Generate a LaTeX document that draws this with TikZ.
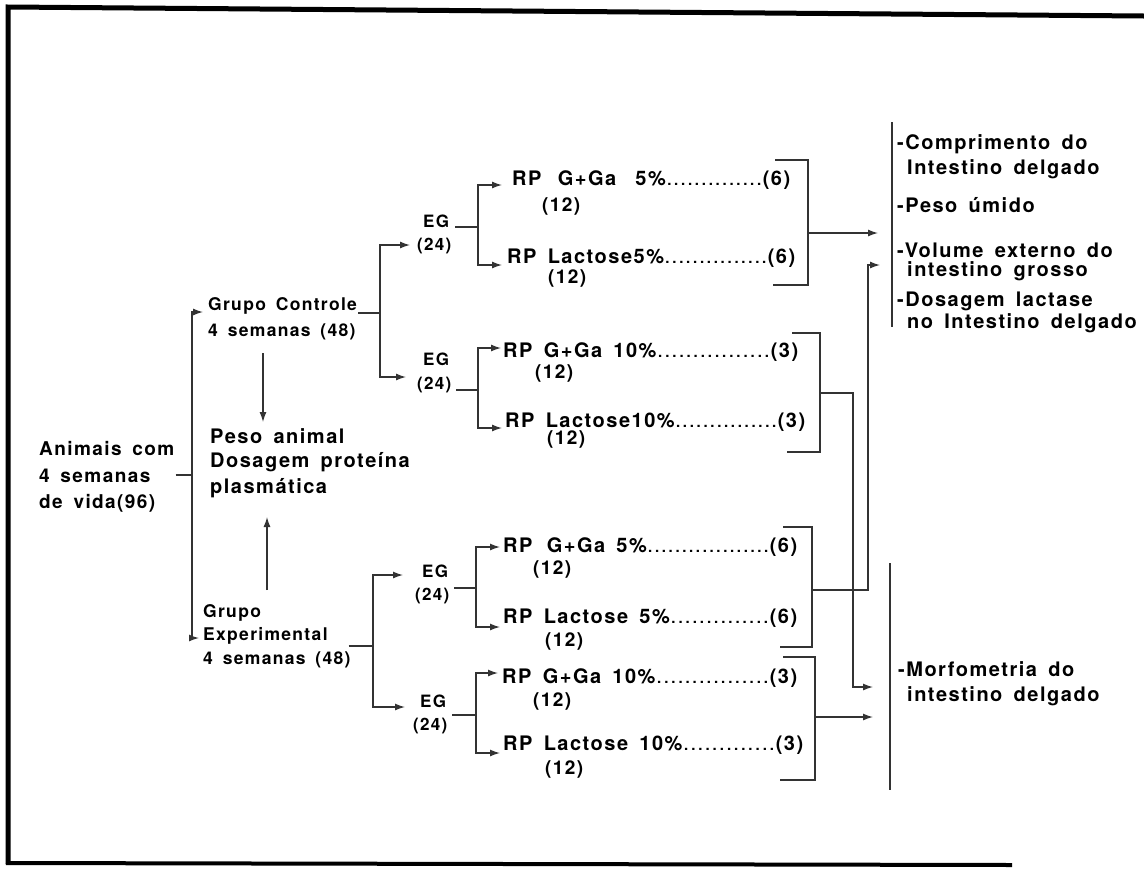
\documentclass[tikz,border=0pt]{standalone}
\usepackage{fontspec}
\setmainfont{TeX Gyre Heros Bold}[LetterSpace=7.5,WordSpace=1.6]
\usetikzlibrary{arrows.meta}
\newcommand\dotlead{\xleaders\hbox to 6.8pt{\hss\fontsize{15}{15}\selectfont.\hss}\hfill}
\tikzset{
  lab/.style={anchor=base west, inner sep=0pt, font=\fontsize{20}{24}\selectfont},
  labs/.style={lab, font=\fontsize{19}{22}\selectfont},
  grp/.style={lab, font=\fontsize{17.5}{20}\selectfont},
  egl/.style={lab, font=\fontsize{17}{20}\selectfont},
  ln/.style={line width=1.3pt, draw=black!80},
  arr/.style={ln, -{Latex[length=10pt,width=7pt]}},
  framel/.style={line width=5pt, draw=black},
}
\begin{document}
\begin{tikzpicture}[x=1pt,y=-1pt]
\useasboundingbox (0,0) rectangle (1144,871);
\fill[white] (0,0) rectangle (1144,871);
% frame
\draw[framel] (8,864) -- (8,7) -- (1144,16);
\draw[framel, line width=4pt] (6,863) -- (1012,865);

% left texts
\node[labs] (ani1) at (39,455) {Animais com};
\node[labs] (ani2) at (39,482) {4 semanas};
\node[labs] (ani3) at (39,508) {de vida(96)};
\node[grp] (gc1) at (208,310) {Grupo Controle};
\node[grp] (gc2) at (208,336) {4 semanas (48)};
\node[grp] (ge1) at (203,617) {Grupo};
\node[grp] (ge2) at (203,640) {Experimental};
\node[grp] (ge3) at (203,664) {4 semanas (48)};
\node[lab] (pe1) at (210,443) {Peso animal};
\node[lab] (pe2) at (210,467) {Dosagem proteína};
\node[lab] (pe3) at (210,493) {plasmática};

% EG nodes
\node[egl] (egc1) at (423,227) {EG}; \node[egl] (nc1) at (417,250) {(24)};
\node[egl] (egc2) at (423,365) {EG}; \node[egl] (nc2) at (417,389) {(24)};
\node[egl] (ege1) at (422,577) {EG}; \node[egl] (ne1) at (415,600) {(24)};
\node[egl] (ege2) at (420,707) {EG}; \node[egl] (ne2) at (413,730) {(24)};

% RP rows
\node[lab] (rpc1) at (512,185) {\hbox to 278pt{RP\hspace{5pt} G+Ga\hspace{8pt} 5\%\dotlead(6)}};
\node[labs] (qc1) at (542,211) {(12)};
\node[lab] (rpc2) at (507,263) {\hbox to 288pt{RP Lactose5\%\dotlead(6)}};
\node[labs] (qc2) at (548,283) {(12)};
\node[lab] (rpc3) at (503,357) {\hbox to 295pt{RP G+Ga 10\%\dotlead(3)}};
\node[labs] (qc3) at (535,378) {(12)};
\node[lab] (rpc4) at (505,427) {\hbox to 300pt{RP Lactose10\%\dotlead(3)}};
\node[labs] (qc4) at (547,444) {(12)};
\node[lab] (rpe1) at (503,552) {\hbox to 294pt{RP\hspace{3pt} G+Ga 5\%\dotlead(6)}};
\node[labs] (qe1) at (533,574) {(12)};
\node[lab] (rpe2) at (503,623) {\hbox to 294pt{RP Lactose 5\%\dotlead(6)}};
\node[labs] (qe2) at (545,646) {(12)};
\node[lab] (rpe3) at (502,683) {\hbox to 295pt{RP G+Ga 10\%\dotlead(3)}};
\node[labs] (qe3) at (533,706) {(12)};
\node[lab] (rpe4) at (503,750) {\hbox to 300pt{RP Lactose 10\%\dotlead(3)}};
\node[labs] (qe4) at (545,774) {(12)};

% results
\node[lab] (r1a) at (897,149.5) {-Comprimento do};
\node[lab] (r1b) at (907,174.5) {Intestino delgado};
\node[lab] (r2) at (897,212.5) {-Peso úmido};
\node[lab] (r3a) at (897,257.5) {-Volume externo do};
\node[lab] (r3b) at (907,276) {intestino grosso};
\node[lab] (r4a) at (897,306) {-Dosagem lactase};
\node[lab] (r4b) at (907,328) {no Intestino delgado};
\node[lab] (r5a) at (898,676.5) {-Morfometria do};
\node[lab] (r5b) at (907,701.5) {intestino delgado};

% junction coordinates
\coordinate (j0) at (192,475);
\coordinate (tgc) at (203,312);
\coordinate (tge) at (199,638);
\coordinate (jc) at (380,313);
\coordinate (tc1) at (410,245);
\coordinate (tc2) at (406,377);
\coordinate (je) at (373,646);
\coordinate (te1) at (403,575);
\coordinate (te2) at (405,707);
\coordinate (dA) at (263,353);
\coordinate (dB) at (263,422);
\coordinate (uA) at (267,590);
\coordinate (uB) at (267,517);
\coordinate (fc1) at (478,227);
\coordinate (fc2) at (478,390);
\coordinate (fe1) at (476,588);
\coordinate (fe2) at (476,715);
\coordinate (t1) at (502,185);
\coordinate (t2) at (502,265);
\coordinate (t3) at (501,348);
\coordinate (t4) at (502,428);
\coordinate (t5) at (500,547);
\coordinate (t6) at (500,627);
\coordinate (t7) at (498,673);
\coordinate (t8) at (500,753);

% left connectors
\draw[ln] ([xshift=1pt]ani1.east |- j0) -- (j0);
\draw[arr] (j0) |- (tgc);
\draw[arr] (j0) |- (tge);
\draw[ln] ([xshift=1pt]gc1.east |- jc) -- (jc);
\draw[arr] (jc) |- (tc1);
\draw[arr] (jc) |- (tc2);
\draw[ln] ([xshift=-2pt]ge3.east |- je) -- (je);
\draw[arr] (je) |- (te1);
\draw[arr] (je) |- (te2);
\draw[arr] (dA) -- (dB);
\draw[arr] (uA) -- (uB);

% EG forks
\draw[ln] ([xshift=6pt]egc1.east |- fc1) -- (fc1);
\draw[arr] (fc1) |- (t1);
\draw[arr] (fc1) |- (t2);
\draw[ln] ([xshift=5pt]nc2.east |- fc2) -- (fc2);
\draw[arr] (fc2) |- (t3);
\draw[arr] (fc2) |- (t4);
\draw[ln] ([xshift=5pt]ne1.east |- fe1) -- (fe1);
\draw[arr] (fe1) |- (t5);
\draw[arr] (fe1) |- (t6);
\draw[ln] ([xshift=5pt]ne2.east |- fe2) -- (fe2);
\draw[arr] (fe2) |- (t7);
\draw[arr] (fe2) |- (t8);

% brackets on the right of RP rows
\draw[ln] (775,160) -- (808,160) -- (808,285) -- (773,285);
\draw[ln] (792,333) -- (820,333) -- (820,452) -- (787,452);
\draw[ln] (783,527) -- (812,527) -- (812,647) -- (780,647);
\draw[ln] (783,657) -- (815,657) -- (815,780) -- (780,780);

% exits to results
\coordinate (o1) at (878,233);
\coordinate (o2) at (873,687);
\coordinate (o3) at (880,265);
\coordinate (o4) at (873,717);
\draw[arr] (808,233) -- (o1);
\draw[arr] (820,393) -- (853,393) -- (853,687) -- (o2);
\draw[arr] (812,590) -- (868,590) -- (868,265) -- (o3);
\draw[arr] (815,717) -- (o4);

% result brackets
\draw[ln] (892,122) -- (892,327);
\draw[ln] (890,563) -- (890,790);
\end{tikzpicture}
\end{document}
